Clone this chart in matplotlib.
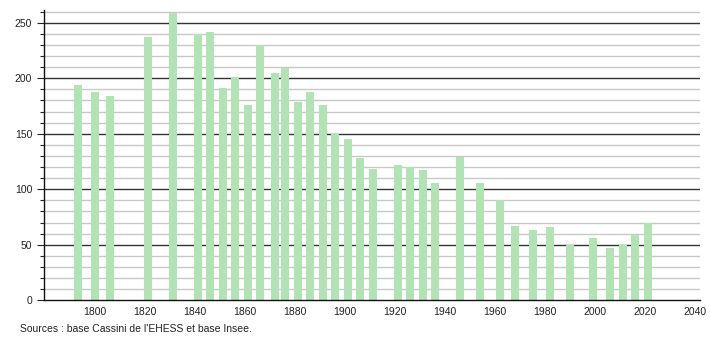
import matplotlib
matplotlib.use("Agg")
import matplotlib.pyplot as plt
from matplotlib.ticker import MultipleLocator

years = [1793, 1800, 1806, 1821, 1831, 1841, 1846, 1851, 1856, 1861, 1866,
         1872, 1876, 1881, 1886, 1891, 1896, 1901, 1906, 1911, 1921, 1926,
         1931, 1936, 1946, 1954, 1962, 1968, 1975, 1982, 1990, 1999, 2006,
         2011, 2016, 2021]
population = [194, 188, 184, 237, 259, 240, 242, 191, 201, 176, 230,
              205, 209, 179, 188, 176, 151, 145, 128, 118, 122, 120,
              117, 106, 129, 106, 90, 67, 63, 66, 50, 56, 47,
              50, 59, 70]
xticks = [1800, 1820, 1840, 1860, 1880, 1900, 1920, 1940, 1960, 1980, 2000, 2020, 2040]
yticks = [0, 50, 100, 150, 200, 250]
source = "Sources : base Cassini de l'EHESS et base Insee."

plt.rcParams['font.family'] = ['Liberation Sans', 'DejaVu Sans']

fig = plt.figure(figsize=(7.1, 3.4), dpi=100)
ax = fig.add_axes([44/710, 1 - 300.3/340, (700 - 44)/710, (300.3 - 10)/340])

ax.set_xlim(1779.6, 2042)
ax.set_ylim(0, 261.5)

# grid lines
for v in range(10, 261, 10):
    if v % 50 == 0:
        ax.axhline(v, color='#333333', lw=1.0, zorder=1)
    else:
        ax.axhline(v, color='#c8c8c8', lw=1.0, zorder=1)

ax.bar(years, population, width=3.2, color='#b1e3b4', zorder=2)

ax.set_xticks(xticks)
ax.set_xticklabels([str(t) for t in xticks])
ax.set_yticks(yticks)
ax.yaxis.set_minor_locator(MultipleLocator(10))
ax.tick_params(axis='x', length=0, labelsize=7.5, pad=5, colors='#222222')
ax.tick_params(axis='y', which='major', length=5, width=0.8, labelsize=7.5, colors='#222222')
ax.tick_params(axis='y', which='minor', length=3, width=0.8, colors='#222222')

for s in ['top', 'right']:
    ax.spines[s].set_visible(False)
ax.spines['left'].set_color('#111111')
ax.spines['bottom'].set_color('#111111')
ax.spines['left'].set_linewidth(1.0)
ax.spines['bottom'].set_linewidth(1.0)

fig.text(20/710, 1 - 329/340, source, fontsize=7.5, color='#222222', va='center', ha='left')

fig.savefig('out.png', dpi=100)
